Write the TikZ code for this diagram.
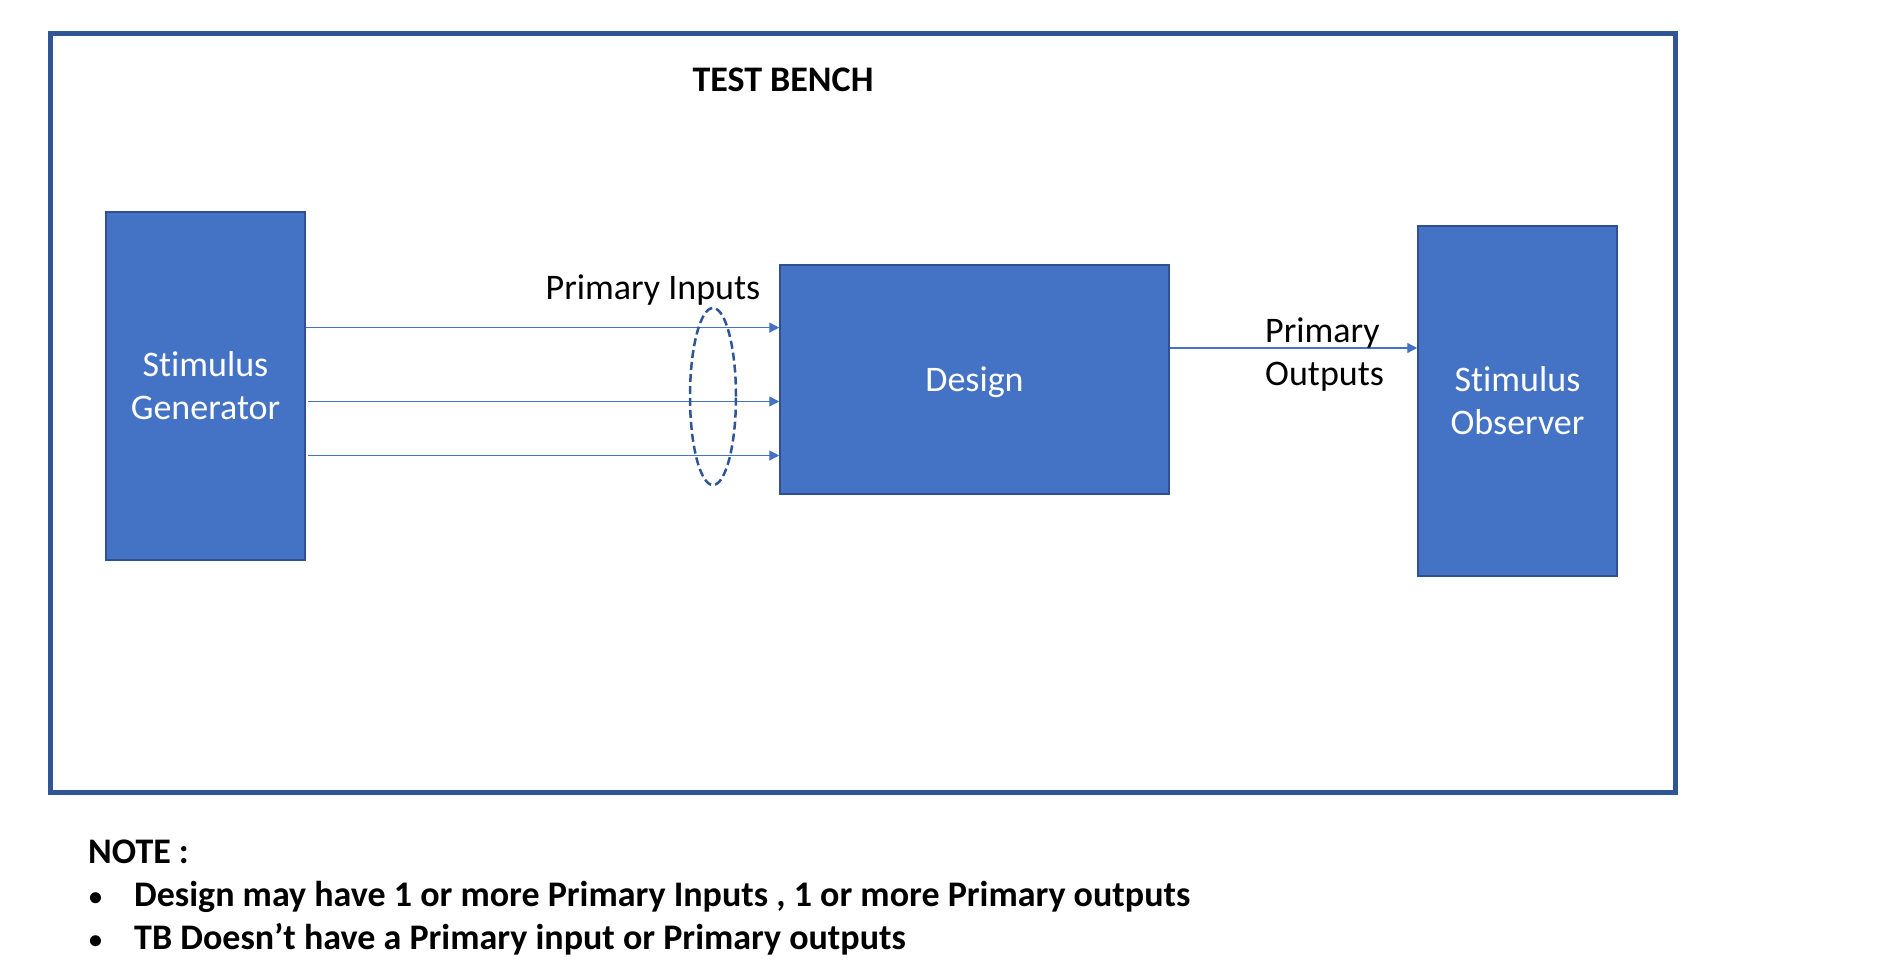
\documentclass[tikz,border=0pt]{standalone}
\usepackage{fontspec}
\setmainfont{Carlito}[Ligatures=NoCommon]
\usetikzlibrary{arrows.meta,shapes.geometric}
\definecolor{boxblue}{HTML}{4472C4}
\definecolor{edgeblue}{HTML}{2F528F}
\definecolor{framblue}{HTML}{2F5597}
\tikzset{
  blk/.style={draw=edgeblue, line width=1.5pt, fill=boxblue, text=white, inner sep=0pt,
    font=\fontsize{36}{43}\selectfont, align=center},
  arr/.style={draw=boxblue, line width=1.2pt, -{Triangle[length=10pt,width=10pt]}},
  lbl/.style={font=\fontsize{36}{43}\selectfont, inner sep=0pt, text=black},
  note/.style={font=\fontsize{36}{43}\bfseries\selectfont, inner sep=0pt, anchor=base west, text=black},
  bul/.style={font=\fontsize{26}{30}\bfseries\selectfont, inner sep=0pt, anchor=base west, text=black},
}
\begin{document}
\begin{tikzpicture}[x=1pt,y=-1pt]
\useasboundingbox[fill=white] (0,0) rectangle (1888,973);
% frame
\node[draw=framblue, line width=5pt, minimum width=1625pt, minimum height=758pt, inner sep=0pt] (tb) at (862.8,413) {};
\node[font=\fontsize{36}{40}\bfseries\selectfont, anchor=base, inner sep=0pt] (title) at (783,91.5) {TEST BENCH};
% blocks
\node[blk, minimum width=199pt, minimum height=348pt] (sg) at (205.5,386) {Stimulus\\Generator};
\node[blk, minimum width=389pt, minimum height=229pt] (des) at (974.5,379.5) {};
\node[lbl, text=white, anchor=base] (destxt) at (974.5,392) {Design};
\node[blk, minimum width=199pt, minimum height=350pt] (so) at (1517.5,401) {Stimulus\\Observer};
% inputs
\coordinate (i1) at (0,327.6);
\coordinate (i2) at (0,401.5);
\coordinate (i3) at (0,455.5);
\draw[arr] (sg.east |- i1) -- (des.west |- i1);
\draw[arr, shorten <=2.5pt] (sg.east |- i2) -- (des.west |- i2);
\draw[arr, shorten <=2.5pt] (sg.east |- i3) -- (des.west |- i3);
\node[draw=framblue, line width=2.5pt, dash pattern=on 8pt off 4pt, ellipse, minimum width=46pt, minimum height=177pt, inner sep=0pt] (grp) at (713,396.5) {};
\node[lbl, anchor=base] (pi) at (653,300) {Primary Inputs};
% output
\coordinate (o1) at (0,348);
\draw[arr] (des.east |- o1) -- (so.west |- o1);
\node[lbl, anchor=base west] (po1) at (1265,343) {Primary};
\node[lbl, anchor=base west] (po2) at (1265,386) {Outputs};
% note
\node[note] (n0) at (88,863) {NOTE :};
\node[bul] (b1) at (89,905) {•};
\node[note] (n1) at (134,906) {Design may have 1 or more Primary Inputs , 1 or more Primary outputs};
\node[bul] (b2) at (89,948) {•};
\node[note] (n2) at (134,949) {TB Doesn’t have a Primary input or Primary outputs};
\end{tikzpicture}
\end{document}
